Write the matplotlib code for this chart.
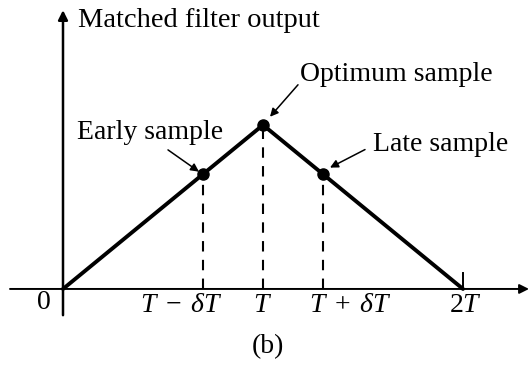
import matplotlib.pyplot as plt

plt.rcParams['font.family'] = ['Liberation Serif', 'DejaVu Serif']
plt.rcParams['mathtext.fontset'] = 'custom'
plt.rcParams['mathtext.it'] = 'Liberation Serif:italic'
plt.rcParams['mathtext.rm'] = 'Liberation Serif'

# triangular matched filter output (time in units of T, peak normalised to 1)
t_curve = [0.0, 1.0, 2.0]
y_curve = [0.0, 1.0, 0.0]

# early / optimum / late samples, delta = 0.3 T
t_samples = [0.7, 1.0, 1.3]
y_samples = [0.7, 1.0, 0.7]
sample_names = ["Early sample", "Optimum sample", "Late sample"]

tick_pos = [1.0 - 0.3, 1.0, 1.0 + 0.3, 2.0]
tick_labels = [r"$T\;-\;\delta T$", r"$T$", r"$T\;+\;\delta T$", r"$2T$"]

fig = plt.figure(figsize=(5.32, 3.68), dpi=100)
ax = fig.add_axes([0, 0, 1, 1])
ax.set_xlim(-0.315, 2.345)
ax.set_ylim(-0.482, 1.762)
ax.axis('off')

# axes with arrow heads
ax.annotate("", xy=(2.33, 0), xytext=(-0.265, 0),
            arrowprops=dict(arrowstyle='-|>', color='black', lw=1.4,
                            mutation_scale=14, shrinkA=0, shrinkB=0))
ax.annotate("", xy=(0, 1.70), xytext=(0, -0.16),
            arrowprops=dict(arrowstyle='-|>', color='black', lw=1.8,
                            mutation_scale=14, shrinkA=0, shrinkB=0))
ax.plot([2.0, 2.0], [0, 0.1], color='black', lw=1.4)

ax.plot(t_curve, y_curve, color='black', lw=2.8, solid_capstyle='round')

for t, y in zip(t_samples, y_samples):
    ax.plot([t, t], [0, y], color='black', lw=1.5, ls=(0, (5, 4)))
ax.plot(t_samples, y_samples, 'o', color='black', markersize=8)

# sample labels with pointing arrows
label_text = [(0.07, 0.957), (1.185, 1.305), (1.55, 0.878)]
arrow_tail = [(0.525, 0.848), (1.175, 1.245), (1.51, 0.85)]
arrow_head = [(0.68, 0.715), (1.035, 1.05), (1.335, 0.74)]
for name, (tx, ty), tail, head in zip(sample_names, label_text, arrow_tail, arrow_head):
    ax.text(tx, ty, name, fontsize=20, ha='left', va='center')
    ax.annotate("", xy=head, xytext=tail,
                arrowprops=dict(arrowstyle='-|>', color='black', lw=1.1,
                                mutation_scale=12, shrinkA=0, shrinkB=0))

ax.text(0.075, 1.64, "Matched filter output", fontsize=20.5, ha='left', va='center')

# tick labels below the time axis
ax.text(-0.095, -0.085, "0", fontsize=20, ha='center', va='center')
label_offsets = [-0.11, 0.0, 0.135, 0.01]
for p, lab, off in zip(tick_pos, tick_labels, label_offsets):
    ax.text(p + off, -0.098, lab, fontsize=20, ha='center', va='center')

ax.text(1.025, -0.35, "(b)", fontsize=20, ha='center', va='center')

fig.savefig("out.png", dpi=100)
